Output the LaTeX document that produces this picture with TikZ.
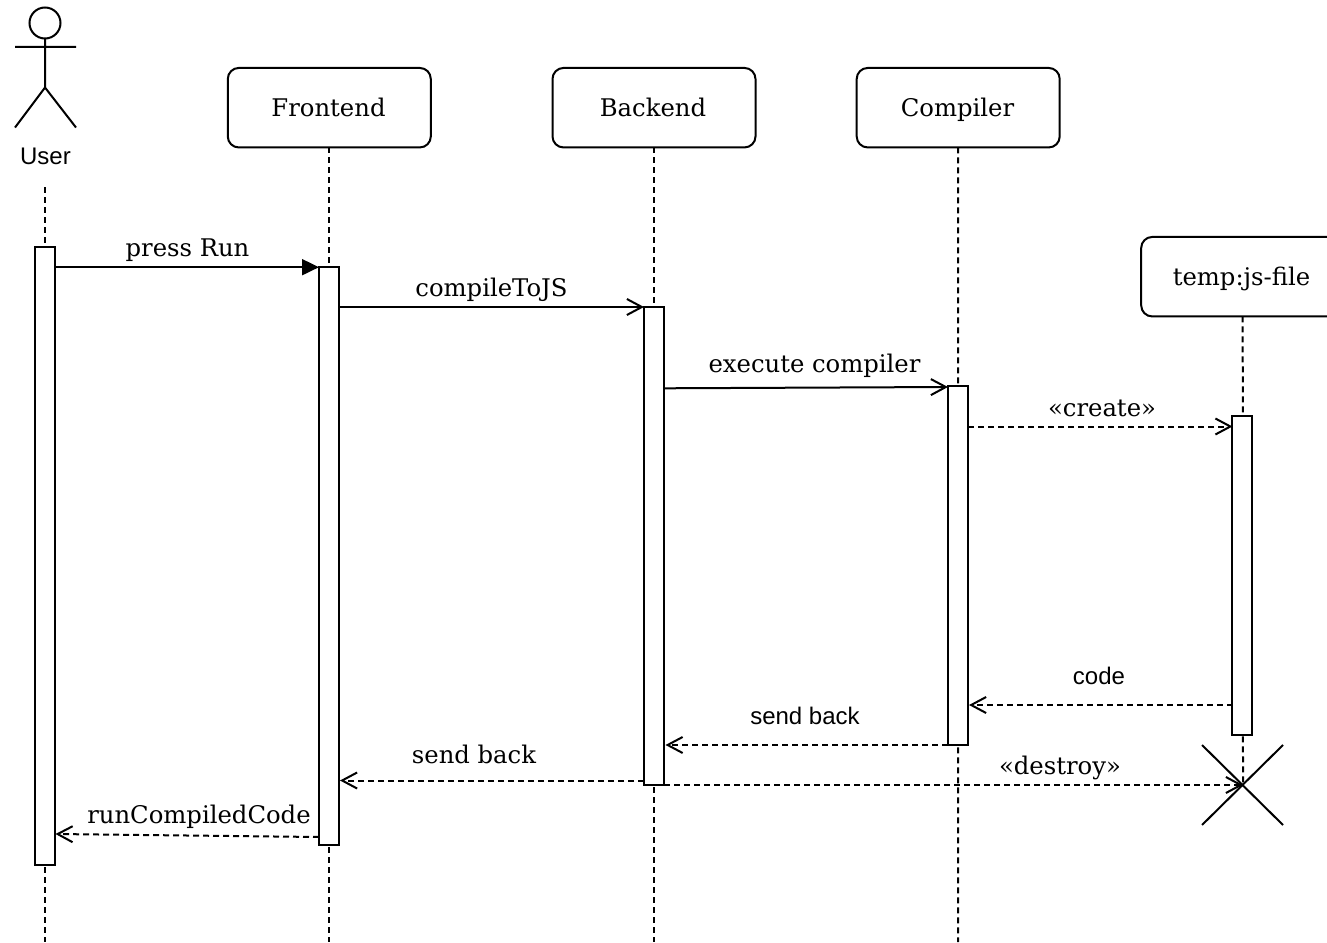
\documentclass[tikz,border=0pt]{standalone}
\usepackage{fontspec}
\setmainfont{DejaVu Serif}
\newfontfamily\lsans{Liberation Sans}
\usetikzlibrary{arrows.meta}
\begin{document}
\begin{tikzpicture}[x=1pt,y=-1pt,
 every node/.style={inner sep=0pt,outer sep=0pt},
 head/.style={draw,rounded corners=11pt,line width=2pt,fill=white,minimum width=203pt,minimum height=79.5pt},
 headtext/.style={font=\fontsize{24.3}{26}\selectfont,anchor=base},
 bar/.style={draw,line width=2pt,fill=white,minimum width=20pt,anchor=north},
 life/.style={line width=2pt,dash pattern=on 6pt off 4pt},
 msg/.style={line width=2pt,-{Straight Barb[length=15pt,width=16pt,line width=2pt]}},
 ret/.style={msg,dash pattern=on 6pt off 4pt},
 lab/.style={font=\fontsize{24.3}{26}\selectfont,anchor=base},
 sanslab/.style={font=\lsans\fontsize{24}{26}\selectfont,anchor=base}]
\useasboundingbox (0,0) rectangle (1327,942);
% lifelines
\coordinate (ub) at (45,187); \coordinate (ue) at (45,942);
\coordinate (fe) at (329.3,942); \coordinate (be) at (654,942); \coordinate (ce) at (958,942);
\node[head] (F) at (329.3,107.7) {};
\node[head] (B) at (654,107.7) {};
\node[head] (C) at (958.2,107.7) {};
\node[head] (T) at (1242.7,276.7) {};
\node[headtext] (Ft) at (328.5,116.6) {Frontend};
\node[headtext] (Bt) at (653,116.6) {Backend};
\node[headtext] (Ct) at (957.5,116.6) {Compiler};
\node[headtext] (Tt) at (1241.5,285.6) {temp:js-file};
\coordinate (tx) at (1243,785);
\draw[life] (ub)--(ue);
\draw[life] (F.south)--(fe);
\draw[life] (B.south)--(be);
\draw[life] (C.south)--(ce);
\draw[life] (T.south)--(tx);
% actor
\coordinate (h) at (45,23);
\draw[line width=2pt] (h) circle (15.5);
\coordinate (n) at (45,38.5); \coordinate (w) at (45,87.5);
\coordinate (al) at (15,47); \coordinate (ar) at (76,47);
\coordinate (ll) at (15,127.5); \coordinate (lr) at (76,127.5);
\draw[line width=2pt] (n)--(w) (al)--(ar) (ll)--(w)--(lr);
\node[sanslab] (ulab) at (45.5,164) {User};
% activation bars
\node[bar,minimum height=618pt] (aU) at (45,246.7) {};
\node[bar,minimum height=578pt] (aF) at (329,266.7) {};
\node[bar,minimum height=478pt] (aB) at (654,306.5) {};
\node[bar,minimum height=359pt] (aC) at (958,386) {};
\node[bar,minimum height=319pt] (aT) at (1242.3,416) {};
% destroy cross
\coordinate (x1) at (1202,745); \coordinate (x2) at (1283,825);
\coordinate (x3) at (1283,745); \coordinate (x4) at (1202,825);
\draw[line width=2pt] (x1)--(x2) (x3)--(x4);
% messages
\coordinate (m1a) at (55,267.2); \coordinate (m1b) at (319,267.2);
\draw[line width=2pt,-{Triangle[length=17pt,width=16pt]}] (m1a)--(m1b);
\node[lab] at (187.5,256.6) {press Run};
\coordinate (m2a) at (339,307); \coordinate (m2b) at (644,307);
\draw[msg] (m2a)--(m2b);
\node[lab] at (491.5,296.6) {compileToJS};
\coordinate (m3a) at (664,388.3); \coordinate (m3b) at (948,387);
\draw[msg] (m3a)--(m3b);
\node[lab] at (814.5,372.6) {execute compiler};
\coordinate (m4a) at (968,426.5); \coordinate (m4b) at (1232.5,426.5);
\draw[ret] (m4a)--(m4b);
\node[lab] at (1102,416.6) {«create»};
\coordinate (m5a) at (1232.5,705); \coordinate (m5b) at (969,705);
\draw[ret] (m5a)--(m5b);
\node[sanslab] at (1099,684.3) {code};
\coordinate (m6a) at (948,745); \coordinate (m6b) at (665.5,745);
\draw[ret] (m6a)--(m6b);
\node[sanslab] at (805,724.3) {send back};
\coordinate (m7a) at (644,780.5); \coordinate (m7b) at (340,780.5);
\draw[ret] (m7a)--(m7b);
\node[lab] at (474,763.6) {send back};
\coordinate (m8a) at (664,785); \coordinate (m8b) at (1243,785);
\draw[ret] (m8a)--(m8b);
\node[lab] at (1060,774.6) {«destroy»};
\coordinate (m9a) at (319,837); \coordinate (m9b) at (55.5,834);
\draw[ret] (m9a)--(m9b);
\node[lab] at (199,823.6) {runCompiledCode};
\end{tikzpicture}
\end{document}
